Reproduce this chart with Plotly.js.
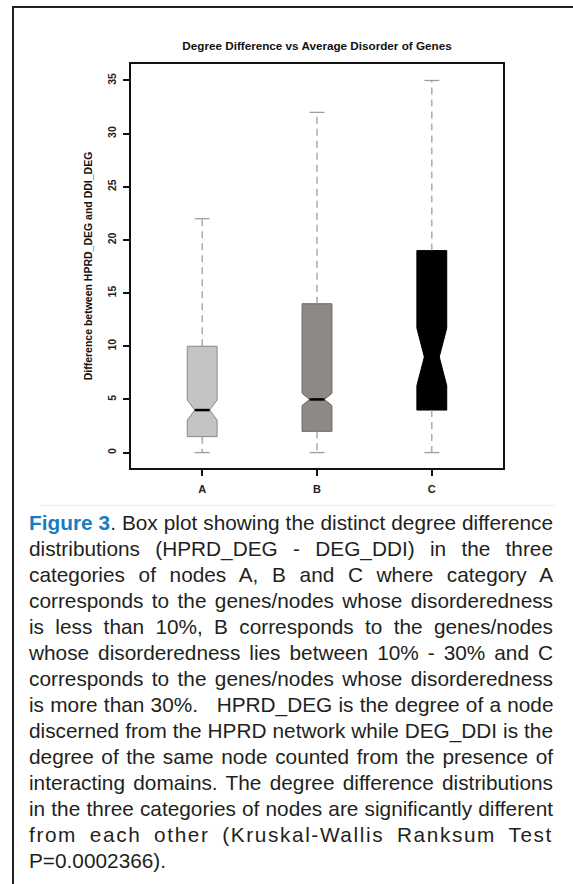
<!DOCTYPE html>
<html><head><meta charset="utf-8">
<script src="https://cdn.plot.ly/plotly-3.0.1.min.js"></script>
<style>
html,body{margin:0;padding:0;background:#fff;width:573px;height:884px;overflow:hidden;}
#chart{position:absolute;left:0;top:0;width:573px;height:884px;}
#frameL{position:absolute;left:12px;top:6px;width:2px;height:878px;background:#231f20;}
#frameT{position:absolute;left:12px;top:6px;width:561px;height:2px;background:#231f20;}
#sep{position:absolute;left:40px;top:505px;width:515px;height:1px;background:#eeeeee;}
#caption{position:absolute;left:29px;top:510px;width:524px;font-family:"Liberation Sans",Arial,sans-serif;font-size:20.8px;line-height:26px;color:#231f20;}
#caption div{white-space:nowrap;}
#caption div.wide{letter-spacing:1.6px;}
.fig{color:#1b7bc1;font-weight:bold;}
</style></head>
<body>
<div id="chart"></div>
<div id="frameL"></div><div id="frameT"></div><div id="sep"></div>
<div id="caption">
<div class="j"><span class="fig">Figure 3</span>. Box plot showing the distinct degree difference</div>
<div class="j">distributions (HPRD_DEG - DEG_DDI) in the three</div>
<div class="j">categories of nodes A, B and C where category A</div>
<div class="j">corresponds to the genes/nodes whose disorderedness</div>
<div class="j">is less than 10%, B corresponds to the genes/nodes</div>
<div class="j">whose disorderedness lies between 10% - 30% and C</div>
<div class="j">corresponds to the genes/nodes whose disorderedness</div>
<div class="j">is more than 30%. &nbsp; HPRD_DEG is the degree of a node</div>
<div class="j">discerned from the HPRD network while DEG_DDI is the</div>
<div class="j">degree of the same node counted from the presence of</div>
<div class="j">interacting domains. The degree difference distributions</div>
<div class="j">in the three categories of nodes are significantly different</div>
<div class="j wide">from each other (Kruskal-Wallis Ranksum Test</div>
<div>P=0.0002366).</div>
</div>
<script>
// ---- data ----
const categories = ['A', 'B', 'C'];
const xPos = [1, 2, 3];
const lowerWhisker = [0, 0, 0];
const q1 = [1.5, 2, 4];
const median = [4, 5, 9];
const q3 = [10, 14, 19];
const upperWhisker = [22, 32, 35];
const notchHalf = [0.95, 0.58, 2.7];
const yTicks = [0, 5, 10, 15, 20, 25, 30, 35];

// ---- styles ----
const fillColors = ['#c6c4c2', '#8e8985', '#000000'];
const lineColors = ['#8c8684', '#6b6562', '#000000'];
const whiskerColor = '#a99a96';
const BOXW = 0.26;
const FONT = 'Liberation Sans, Arial, sans-serif';

const traces = [];
for (let i = 0; i < categories.length; i++) {
  const x = xPos[i];
  traces.push({
    type: 'box', x: [x], q1: [q1[i]], median: [median[i]], q3: [q3[i]],
    lowerfence: [q1[i]], upperfence: [q3[i]],
    notched: true, notchspan: [notchHalf[i]], notchwidth: 0.25,
    width: BOXW, whiskerwidth: 0, boxpoints: false,
    fillcolor: fillColors[i], line: {color: lineColors[i], width: 1},
    hoverinfo: 'skip', showlegend: false
  });
  traces.push({
    type: 'scatter', mode: 'lines', showlegend: false, hoverinfo: 'skip',
    x: [x, x, null, x, x], y: [q3[i], upperWhisker[i], null, q1[i], lowerWhisker[i]],
    line: {color: whiskerColor, width: 1.3, dash: '7px,5px'}
  });
  const h = BOXW / 4;
  traces.push({
    type: 'scatter', mode: 'lines', showlegend: false, hoverinfo: 'skip',
    x: [x - h, x + h, null, x - h, x + h],
    y: [upperWhisker[i], upperWhisker[i], null, lowerWhisker[i], lowerWhisker[i]],
    line: {color: whiskerColor, width: 1.3}
  });
  traces.push({
    type: 'scatter', mode: 'lines', showlegend: false, hoverinfo: 'skip',
    x: [x - h, x + h], y: [median[i], median[i]],
    line: {color: '#000000', width: 2.5}
  });
}

const layout = {
  width: 573, height: 884,
  margin: {l: 131, r: 70, t: 64, b: 416, pad: 0},
  paper_bgcolor: 'rgba(0,0,0,0)', plot_bgcolor: '#ffffff',
  boxmode: 'overlay',
  title: {text: 'Degree Difference vs Average Disorder of Genes',
    font: {family: FONT, size: 11.7, weight: 'bold', color: '#111111'},
    x: 0.5, xref: 'paper', xanchor: 'center', y: 1 - 45.7 / 884, yref: 'container', yanchor: 'middle'},
  xaxis: {range: [0.38, 3.62], tickmode: 'array', tickvals: xPos, ticktext: categories,
    showline: true, mirror: true, linecolor: '#111111', linewidth: 2,
    ticks: 'outside', ticklen: 6, tickwidth: 2, tickcolor: '#111111',
    showgrid: false, zeroline: false, ticklabelstandoff: 4,
    tickfont: {family: FONT, size: 11, weight: 'bold', color: '#222222'}},
  yaxis: {range: [-1.45, 36.55], tickmode: 'array', tickvals: yTicks,
    showline: true, mirror: true, linecolor: '#111111', linewidth: 2,
    ticks: 'outside', ticklen: 6, tickwidth: 2, tickcolor: '#111111',
    showgrid: false, zeroline: false, tickangle: -90, ticklabelstandoff: 3,
    tickfont: {family: FONT, size: 10.5, weight: 'bold', color: '#222222'},
    title: {text: 'Difference between HPRD_DEG and DDI_DEG', standoff: 11,
      font: {family: FONT, size: 10.5, weight: 'bold', color: '#111111'}}}
};

Plotly.newPlot('chart', traces, layout, {displayModeBar: false, staticPlot: true}).then(() => {
  // justify caption lines
  const W = 524;
  document.querySelectorAll('#caption div.j').forEach(d => {
    d.style.display = 'inline-block';
    const w = d.getBoundingClientRect().width;
    const n = (d.textContent.match(/ /g) || []).length;
    d.style.display = 'block';
    if (n > 0) d.style.wordSpacing = ((W - w) / n) + 'px';
  });
});
</script>
</body></html>
